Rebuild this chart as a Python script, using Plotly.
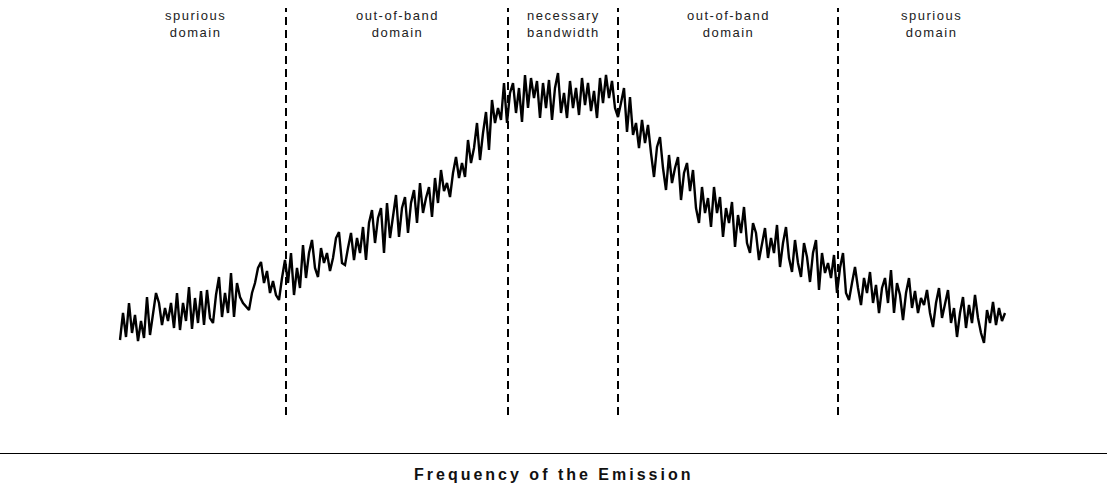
import plotly.graph_objects as go

# ---- data ----
freq_start = 120
freq_step = 3
level_db = [
    # spurious domain (left)
    113, 140, 116, 150, 120, 138, 112, 132, 115, 156,
    118, 140, 160, 150, 128, 145, 132, 150, 125, 160,
    123, 150, 132, 166, 124, 155, 130, 162, 128, 163,
    135, 130, 158, 176, 136, 160, 140, 180, 136, 170,
    156, 150, 146, 143, 160, 170, 185, 191, 170, 182,
    160, 172, 158, 153, 175, 193,
    # out-of-band domain (left)
    170, 200, 158, 185, 165, 208, 175, 200, 213, 185,
    176, 205, 190, 200, 182, 195, 215, 221, 190, 188,
    205, 220, 193, 215, 200, 226, 193, 230, 243, 210,
    235, 245, 200, 250, 215, 235, 258, 216, 245, 256,
    220, 250, 263, 230, 270, 240, 255, 266, 236, 275,
    250, 283, 262, 270, 256, 280, 296, 275, 290, 276,
    313, 290, 305, 330, 293, 320, 341, 303, 353, 330,
    345, 333, 370, 330,
    # necessary bandwidth
    360, 370, 340, 365, 331, 378, 345, 375, 355, 372,
    335, 370, 345, 373, 333, 365, 380, 340, 360, 335,
    372, 345, 365, 338, 375, 348, 370, 342, 362, 335,
    375, 350, 378, 355, 372, 345,
    # out-of-band domain (right)
    336, 350, 365, 321, 356, 318, 330, 305, 333, 310,
    328, 300, 276, 306, 316, 285, 263, 298, 270, 285,
    296, 253, 280, 290, 262, 283, 245, 230, 266, 240,
    255, 226, 266, 240, 256, 216, 245, 230, 251, 206,
    238, 220, 246, 210, 200, 230, 220, 193, 210, 225,
    195, 215, 200, 228, 186, 210, 226, 195, 181, 213,
    190, 176, 210, 196, 171, 200, 213, 163, 200, 180,
    190, 175, 198, 160,
    # spurious domain (right)
    185, 200, 160, 153, 170, 186, 165, 148, 175, 160,
    181, 150, 168, 140, 165, 175, 150, 183, 140, 170,
    158, 133, 160, 175, 145, 162, 140, 155, 148, 163,
    140, 126, 150, 165, 135, 150, 163, 130, 145, 116,
    140, 156, 125, 148, 130, 158, 135, 120, 110, 143,
    130, 151, 128, 145, 132, 140,
]
freq = [freq_start + i * freq_step for i in range(len(level_db))]

boundaries = [286, 508, 618, 838]
boundary_top = 445
boundary_bottom = 38
region_labels = ["spurious<br>domain", "out-of-band<br>domain",
                 "necessary<br>bandwidth", "out-of-band<br>domain",
                 "spurious<br>domain"]
label_pos = [195, 397, 563, 728, 931]
label_top = 447
x_title = "Frequency of the Emission"

FONT = "Liberation Sans, Arial, Helvetica, sans-serif"

fig = go.Figure()
fig.add_trace(go.Scatter(
    x=freq, y=level_db, mode="lines",
    line=dict(color="black", width=2.4),
    hoverinfo="skip", showlegend=False,
))

for b in boundaries:
    fig.add_shape(type="line", xref="x", yref="y",
                  x0=b, x1=b, y0=boundary_bottom, y1=boundary_top,
                  line=dict(color="black", width=2, dash="8px,5px"))

def spaced(t, sp):
    parts = t.split("<br>")
    return "<br>".join(f'<span style="letter-spacing:{sp}px">{p}</span>' for p in parts)

for lab, xp in zip(region_labels, label_pos):
    fig.add_annotation(x=xp, y=label_top, xref="x", yref="y",
                       text=spaced(lab, 1.5), showarrow=False,
                       yanchor="top", xanchor="center",
                       font=dict(family=FONT, size=13, color="#222222"))

fig.add_annotation(x=0.5, y=0, xref="paper", yref="paper",
                   text="<b>" + spaced(x_title, 3.0) + "</b>", showarrow=False,
                   yanchor="top", xanchor="center", yshift=-11,
                   font=dict(family=FONT, size=16, color="#111111"))

fig.update_layout(
    width=1107, height=484,
    margin=dict(l=0, r=0, t=0, b=31),
    paper_bgcolor="white", plot_bgcolor="white",
    xaxis=dict(range=[0, 1107], showline=True, linecolor="black", linewidth=1,
               showticklabels=False, ticks="", showgrid=False, zeroline=False,
               fixedrange=True),
    yaxis=dict(range=[0, 453], visible=False, showgrid=False, zeroline=False,
               fixedrange=True),
)

fig.write_html("out.html", config={"displayModeBar": False, "staticPlot": True},
               post_script="document.body.style.margin='0';document.body.style.overflow='hidden';")
